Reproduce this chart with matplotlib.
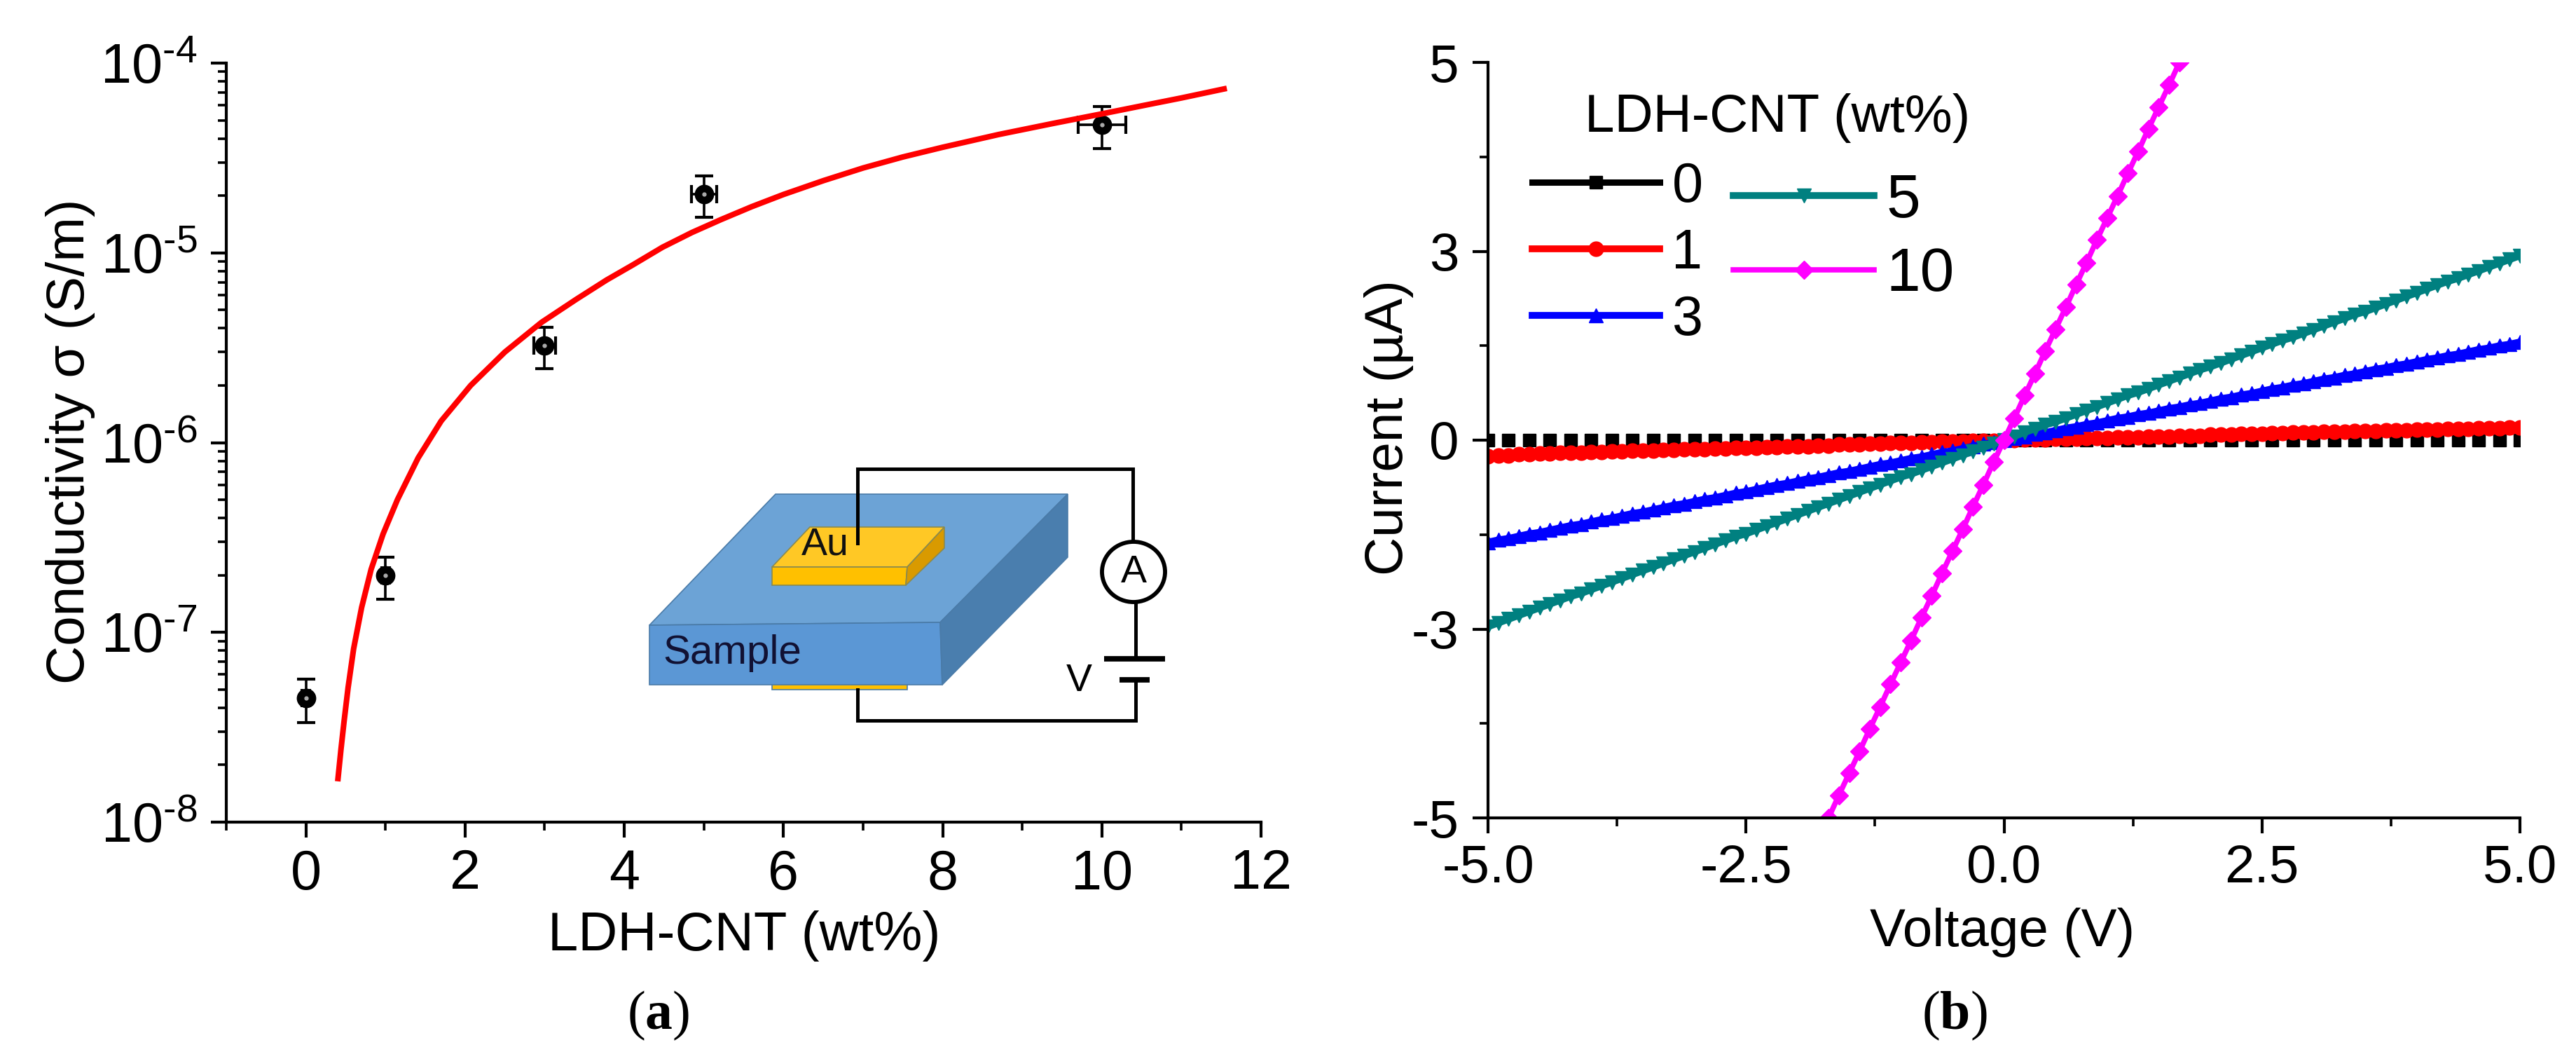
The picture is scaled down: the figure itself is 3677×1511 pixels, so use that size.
import matplotlib
matplotlib.use('Agg')
import matplotlib.pyplot as plt
from matplotlib.lines import Line2D
from matplotlib.patches import Ellipse, Polygon
from matplotlib.ticker import FixedLocator, FixedFormatter, LogLocator, NullFormatter

plt.rcParams['font.family'] = ['Liberation Sans', 'DejaVu Sans']
plt.rcParams['mathtext.fontset'] = 'custom'
plt.rcParams['mathtext.bf'] = 'Liberation Serif:bold'
plt.rcParams['mathtext.default'] = 'regular'
plt.rcParams['axes.unicode_minus'] = False

W, H = 3677, 1511

# panel a
loading = [0, 1, 3, 5, 10]
conductivity = [4.5e-8, 2.0e-7, 3.25e-6, 2.04e-5, 4.73e-5]
conductivity_err = [1.15e-8, 5e-8, 0.8e-6, 5e-6, 1.18e-5]
loading_err = [0.05, 0.05, 0.14, 0.16, 0.3]
fit_x = [0.40, 0.44, 0.48, 0.53, 0.60, 0.70, 0.82, 0.97, 1.15, 1.41, 1.70, 2.07, 2.50, 2.96, 3.40, 3.78,
         4.10, 4.48, 4.85, 5.22, 5.60, 6.00, 6.50, 7.00, 7.50, 8.00, 8.70, 9.38, 10.00, 10.50, 11.00, 11.57]
fit_y = [1.64e-8, 2.4e-8, 3.4e-8, 5.1e-8, 8.2e-8, 1.35e-7, 2.15e-7, 3.3e-7, 5.0e-7, 8.3e-7, 1.3e-6, 2.0e-6,
         3.0e-6, 4.3e-6, 5.7e-6, 7.2e-6, 8.6e-6, 1.07e-5, 1.28e-5, 1.5e-5, 1.75e-5, 2.03e-5, 2.4e-5, 2.8e-5,
         3.2e-5, 3.6e-5, 4.2e-5, 4.8e-5, 5.4e-5, 5.95e-5, 6.55e-5, 7.36e-5]

# panel b
voltage = [-5.0, -4.9, -4.8, -4.7, -4.6, -4.5, -4.4, -4.3, -4.2, -4.1, -4.0, -3.9, -3.8, -3.7, -3.6, -3.5, -3.4,
           -3.3, -3.2, -3.1, -3.0, -2.9, -2.8, -2.7, -2.6, -2.5, -2.4, -2.3, -2.2, -2.1, -2.0, -1.9, -1.8, -1.7,
           -1.6, -1.5, -1.4, -1.3, -1.2, -1.1, -1.0, -0.9, -0.8, -0.7, -0.6, -0.5, -0.4, -0.3, -0.2, -0.1, 0.0,
           0.1, 0.2, 0.3, 0.4, 0.5, 0.6, 0.7, 0.8, 0.9, 1.0, 1.1, 1.2, 1.3, 1.4, 1.5, 1.6, 1.7, 1.8, 1.9, 2.0,
           2.1, 2.2, 2.3, 2.4, 2.5, 2.6, 2.7, 2.8, 2.9, 3.0, 3.1, 3.2, 3.3, 3.4, 3.5, 3.6, 3.7, 3.8, 3.9, 4.0,
           4.1, 4.2, 4.3, 4.4, 4.5, 4.6, 4.7, 4.8, 4.9, 5.0]
voltage_0 = voltage[::2]
current_0 = [0.0] * len(voltage_0)
current_1 = [-0.21, -0.20, -0.20, -0.19, -0.19, -0.18, -0.18, -0.17, -0.17, -0.17, -0.16, -0.16, -0.15, -0.15,
             -0.14, -0.14, -0.14, -0.13, -0.13, -0.12, -0.12, -0.12, -0.11, -0.11, -0.10, -0.10, -0.10, -0.09,
             -0.09, -0.08, -0.08, -0.08, -0.07, -0.07, -0.06, -0.06, -0.06, -0.05, -0.05, -0.04, -0.04, -0.04,
             -0.03, -0.03, -0.02, -0.02, -0.02, -0.01, -0.01, -0.01, 0.00,
             0.00, 0.01, 0.01, 0.01, 0.02, 0.02, 0.02, 0.03, 0.03, 0.03, 0.04, 0.04, 0.04, 0.05, 0.05, 0.05,
             0.06, 0.06, 0.06, 0.07, 0.07, 0.07, 0.08, 0.08, 0.08, 0.09, 0.09, 0.10, 0.10, 0.10, 0.11, 0.11,
             0.11, 0.12, 0.12, 0.12, 0.13, 0.13, 0.13, 0.14, 0.14, 0.14, 0.15, 0.15, 0.15, 0.16, 0.16, 0.16,
             0.17, 0.17]
current_3 = [-1.35, -1.32, -1.30, -1.27, -1.24, -1.22, -1.19, -1.16, -1.13, -1.11, -1.08, -1.05, -1.03, -1.00,
             -0.97, -0.95, -0.92, -0.89, -0.86, -0.84, -0.81, -0.78, -0.76, -0.73, -0.70, -0.68, -0.65, -0.62,
             -0.59, -0.57, -0.54, -0.51, -0.49, -0.46, -0.43, -0.41, -0.38, -0.35, -0.32, -0.30, -0.27, -0.24,
             -0.22, -0.19, -0.16, -0.14, -0.11, -0.08, -0.05, -0.03, 0.00,
             0.03, 0.05, 0.08, 0.10, 0.13, 0.16, 0.18, 0.21, 0.23, 0.26, 0.29, 0.31, 0.34, 0.36, 0.39, 0.42,
             0.44, 0.47, 0.49, 0.52, 0.55, 0.57, 0.60, 0.62, 0.65, 0.68, 0.70, 0.73, 0.75, 0.78, 0.81, 0.83,
             0.86, 0.88, 0.91, 0.94, 0.96, 0.99, 1.01, 1.04, 1.07, 1.09, 1.12, 1.14, 1.17, 1.20, 1.22, 1.25,
             1.27, 1.30]
current_5 = [-2.47, -2.42, -2.37, -2.32, -2.27, -2.22, -2.17, -2.12, -2.07, -2.03, -1.98, -1.93, -1.88, -1.83,
             -1.78, -1.73, -1.68, -1.63, -1.58, -1.53, -1.48, -1.43, -1.38, -1.33, -1.28, -1.24, -1.19, -1.14,
             -1.09, -1.04, -0.99, -0.94, -0.89, -0.84, -0.79, -0.74, -0.69, -0.64, -0.59, -0.54, -0.49, -0.45,
             -0.40, -0.35, -0.30, -0.25, -0.20, -0.15, -0.10, -0.05, 0.00,
             0.05, 0.10, 0.15, 0.20, 0.24, 0.29, 0.34, 0.39, 0.44, 0.49, 0.54, 0.59, 0.63, 0.68, 0.73, 0.78,
             0.83, 0.88, 0.93, 0.97, 1.02, 1.07, 1.12, 1.17, 1.22, 1.27, 1.32, 1.36, 1.41, 1.46, 1.51, 1.56,
             1.61, 1.66, 1.70, 1.75, 1.80, 1.85, 1.90, 1.95, 2.00, 2.05, 2.10, 2.14, 2.19, 2.24, 2.29, 2.34,
             2.39, 2.44]
voltage_10 = voltage[32:69]
current_10 = [-5.29, -5.00, -4.70, -4.41, -4.12, -3.82, -3.53, -3.23, -2.94, -2.65, -2.35, -2.06, -1.76, -1.47,
              -1.18, -0.88, -0.59, -0.29, 0.00, 0.29, 0.59, 0.88, 1.18, 1.47, 1.76, 2.06, 2.35, 2.65, 2.94,
              3.23, 3.53, 3.82, 4.12, 4.41, 4.70, 5.00, 5.29]

x_ticks_a = [0, 2, 4, 6, 8, 10, 12]
x_minor_a = [-1, 1, 3, 5, 7, 9, 11]
y_ticks_a = [1e-8, 1e-7, 1e-6, 1e-5, 1e-4]
y_labels_a = ['$10^{\u20108}$', '$10^{\u20107}$', '$10^{\u20106}$', '$10^{\u20105}$', '$10^{\u20104}$']
x_ticks_b = [-5, -2.5, 0, 2.5, 5]
x_minor_b = [-3.75, -1.25, 1.25, 3.75]
x_labels_b = ['-5.0', '-2.5', '0.0', '2.5', '5.0']
y_ticks_b = [-5, -2.5, 0, 2.5, 5]
y_labels_b = ['-5', '-3', '0', '3', '5']


def axes_px(fig, left, top, right, bottom):
    return fig.add_axes([left / W, 1 - bottom / H, (right - left) / W, (bottom - top) / H])


def style_axes(ax, size):
    for side in ['top', 'right']:
        ax.spines[side].set_visible(False)
    for side in ['left', 'bottom']:
        ax.spines[side].set_linewidth(3.0)
    ax.tick_params(which='major', direction='out', length=16, width=3.0, labelsize=size)
    ax.tick_params(axis='x', which='major', pad=11)
    ax.tick_params(axis='y', which='major', pad=14)
    ax.tick_params(which='minor', direction='out', length=8.5, width=2.6)


def draw_inset(ov):
    edge = '#4A7BA8'
    ov.add_patch(Polygon([(1102, 968), (1295, 968), (1295, 984), (1102, 984)], fc='#FFC000', ec=edge, lw=1.2))
    ov.add_patch(Polygon([(1107, 705), (1524, 705), (1342, 888), (927, 892)], fc='#6CA3D6', ec=edge, lw=1.2))
    ov.add_patch(Polygon([(927, 892), (1342, 888), (1345, 977), (927, 977)], fc='#5B97D5', ec=edge, lw=1.2))
    ov.add_patch(Polygon([(1524, 705), (1524, 795), (1345, 977), (1342, 888)], fc='#4A7EAE', ec=edge, lw=1.2))
    ov.add_patch(Polygon([(1156, 752), (1348, 752), (1295, 809), (1102, 809)], fc='#FFC825', ec='#8A8A50', lw=1.2))
    ov.add_patch(Polygon([(1102, 809), (1295, 809), (1293, 835), (1102, 835)], fc='#FFC000', ec='#8A8A50', lw=1.2))
    ov.add_patch(Polygon([(1348, 752), (1348, 782), (1293, 835), (1295, 809)], fc='#D99A00', ec='#8A8A50', lw=1.2))
    ov.plot([1224, 1224, 1617, 1617], [775, 669, 669, 772], color='k', lw=3.6, solid_joinstyle='miter')
    ov.plot([1621, 1621], [860, 940], color='k', lw=3.6)
    ov.plot([1576, 1663], [940, 940], color='k', lw=5.6, solid_capstyle='butt')
    ov.plot([1598, 1641], [970, 970], color='k', lw=5.6, solid_capstyle='butt')
    ov.plot([1621, 1621, 1224, 1224], [970, 1028, 1028, 984], color='k', lw=3.6, solid_joinstyle='miter')
    ov.add_patch(Ellipse((1618, 816), 90, 86, fc='white', ec='k', lw=4.2))
    ov.text(1618, 817, 'A', fontsize=40, ha='center', va='center')
    ov.text(1540, 972, 'V', fontsize=40, ha='center', va='center')
    ov.text(1178, 777, 'Au', fontsize=40, ha='center', va='center', color='#111111')
    ov.text(1045, 932, 'Sample', fontsize=42, ha='center', va='center', color='#111133')


fig = plt.figure(figsize=(W / 100, H / 100), dpi=100, facecolor='white')

ax1 = axes_px(fig, 323, 90, 1800, 1173)
ax1.errorbar(loading, conductivity, xerr=loading_err, yerr=conductivity_err, fmt='o', color='k', ms=19,
             elinewidth=2.6, capsize=9.5, capthick=3.0, zorder=2)
ax1.plot(loading, conductivity, linestyle='none', marker='o', ms=3.5, color='#AAAAAA', zorder=3)
ax1.plot(fit_x, fit_y, color='#FF0000', lw=5.8, solid_capstyle='butt', zorder=4)
ax1.set_yscale('log')
ax1.set_xlim(-1, 12)
ax1.set_ylim(1e-8, 1e-4)
style_axes(ax1, 57)
ax1.xaxis.set_major_locator(FixedLocator(x_ticks_a))
ax1.xaxis.set_minor_locator(FixedLocator(x_minor_a))
ax1.yaxis.set_major_locator(FixedLocator(y_ticks_a))
ax1.yaxis.set_major_formatter(FixedFormatter(y_labels_a))
ax1.yaxis.set_minor_locator(LogLocator(base=10, subs=[2, 3, 4, 5, 6, 7, 8, 9], numticks=12))
ax1.yaxis.set_minor_formatter(NullFormatter())
fig.text(1062 / W, 1 - 1336 / H, 'LDH-CNT (wt%)', fontsize=56, ha='center', va='center')
fig.text(101 / W, 1 - 630 / H, 'Conductivity σ (S/m)', fontsize=55, rotation=90, ha='center', va='center')

ax2 = axes_px(fig, 2124, 89, 3597, 1167)
ax2.plot(voltage_0, current_0, color='k', linestyle='none', marker='s', ms=13.5)
line_1, = ax2.plot(voltage, current_1, color='#FF0000', lw=7, marker='o', ms=15)
line_3, = ax2.plot(voltage, current_3, color='#0000FF', lw=7, marker='^', ms=15)
line_5, = ax2.plot(voltage, current_5, color='#008080', lw=7, marker='v', ms=15)
line_10, = ax2.plot(voltage_10, current_10, color='#FF00FF', lw=5.5, marker='D', ms=13)
key_0 = Line2D([], [], color='k', lw=6.5, marker='s', ms=13.5)
ax2.set_xlim(-5, 5)
ax2.set_ylim(-5, 5)
style_axes(ax2, 55)
ax2.xaxis.set_major_locator(FixedLocator(x_ticks_b))
ax2.xaxis.set_major_formatter(FixedFormatter(x_labels_b))
ax2.xaxis.set_minor_locator(FixedLocator(x_minor_b))
ax2.yaxis.set_major_locator(FixedLocator(y_ticks_b))
ax2.yaxis.set_major_formatter(FixedFormatter(y_labels_b))
ax2.yaxis.set_minor_locator(FixedLocator(x_minor_b))
fig.text(2858 / W, 1 - 1331 / H, 'Voltage (V)', fontsize=55, ha='center', va='center')
fig.text(1982 / W, 1 - 610 / H, 'Current (µA)', fontsize=55, rotation=90, ha='center', va='center')

fig.text(2537 / W, 1 - 168 / H, 'LDH-CNT (wt%)', fontsize=55, ha='center', va='center')
leg_left = ax2.legend(handles=[key_0, line_1, line_3], labels=['0', '1', '3'], loc='upper left',
                      bbox_to_anchor=(2187 / W, 1 - 230 / H), bbox_transform=fig.transFigure, frameon=False,
                      fontsize=57, numpoints=1, handlelength=2.3, handletextpad=0.22, labelspacing=0.25,
                      borderpad=0, borderaxespad=0)
ax2.add_artist(leg_left)
ax2.legend(handles=[line_5, line_10], labels=['5', '10'], loc='upper left',
           bbox_to_anchor=(2474 / W, 1 - 247 / H), bbox_transform=fig.transFigure, frameon=False,
           fontsize=63, numpoints=1, handlelength=2.3, handletextpad=0.2, labelspacing=0.28,
           borderpad=0, borderaxespad=0)

ov = fig.add_axes([0, 0, 1, 1], facecolor='none')
ov.set_xlim(0, W)
ov.set_ylim(H, 0)
ov.axis('off')
draw_inset(ov)

fig.text(940 / W, 1 - 1449 / H, r'($\mathbf{a}$)', fontsize=56, family='Liberation Serif', ha='center', va='center')
fig.text(2790 / W, 1 - 1449 / H, r'($\mathbf{b}$)', fontsize=56, family='Liberation Serif', ha='center', va='center')

fig.savefig('out.png', dpi=100)
